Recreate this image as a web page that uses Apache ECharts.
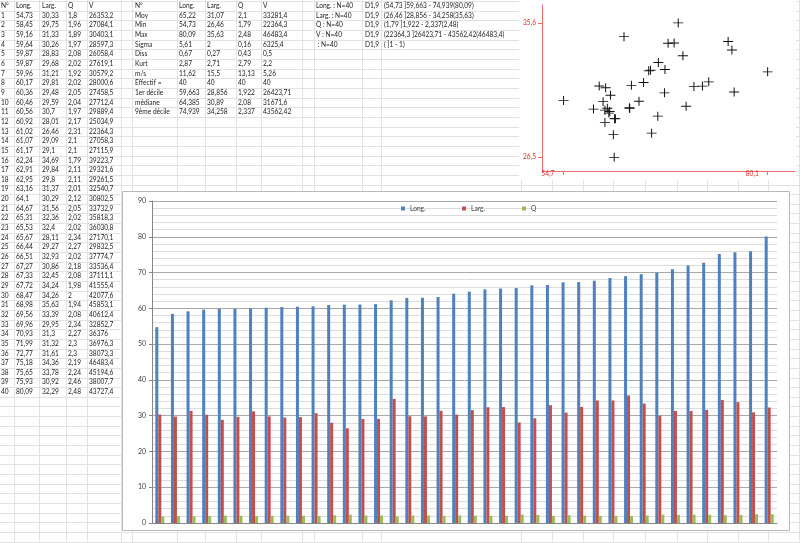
<!DOCTYPE html>
<html><head><meta charset="utf-8">
<script src="https://cdn.jsdelivr.net/npm/echarts@6/dist/echarts.min.js"></script>
<style>html,body{margin:0;padding:0;background:#fff}#c{width:800px;height:543px}</style>
</head><body><div id="c"></div>
<script>
// ---- data ----
const ids = [1,2,3,4,5,6,7,8,9,10,11,12,13,14,15,16,17,18,19,20,21,22,23,24,25,26,27,28,29,30,31,32,33,34,35,36,37,38,39,40];
const longV = [54.73,58.45,59.16,59.64,59.87,59.87,59.96,60.17,60.36,60.46,60.56,60.92,61.02,61.07,61.17,62.24,62.91,62.95,63.16,64.1,64.67,65.31,65.53,65.67,66.44,66.51,67.27,67.33,67.72,68.47,68.98,69.56,69.96,70.93,71.99,72.77,75.18,75.65,75.93,80.09];
const largV = [30.33,29.75,31.33,30.26,28.83,29.68,31.21,29.81,29.48,29.59,30.7,28.01,26.46,29.09,29.1,34.69,29.84,29.8,31.37,30.29,31.56,32.36,32.4,28.11,29.27,32.93,30.86,32.45,34.24,34.26,35.63,33.39,29.95,31.3,31.32,31.61,34.36,33.78,30.92,32.29];
const qV = [1.8,1.96,1.89,1.97,2.08,2.02,1.92,2.02,2.05,2.04,1.97,2.17,2.31,2.1,2.1,1.79,2.11,2.11,2.01,2.12,2.05,2.02,2.02,2.34,2.27,2.02,2.18,2.08,1.98,2,1.94,2.08,2.34,2.27,2.3,2.3,2.19,2.24,2.46,2.48];
const vV = [26353.2,27084.1,30403.1,28597.3,26058.4,27619.1,30579.2,28000.6,27458.5,27712.4,29889.4,25034.9,22364.3,27058.3,27115.9,39223.7,29321.6,29261.5,32540.7,30802.5,33732.9,35818.3,36030.8,27170.1,29832.5,37774.7,33536.4,37111.1,41555.4,42077.6,45853.1,40612.4,32852.7,36376,36976.3,38073.3,46483.4,45194.6,38007.7,43727.4];
const tableHeader = ['N°','Long.','Larg.','Q','V'];
const seriesNames = ['Long.','Larg.','Q'];

const statLabels = ['N°','Moy','Min','Max','Sigma','Diss','Kurt','m/s','Effectif =','1er décile','médiane','9ème décile'];
const statLong = ['Long.','65,22','54,73','80,09','5,61','0,67','2,87','11,62','40','59,663','64,385','74,939'];
const statLarg = ['Larg.','31,07','26,46','35,63','2','0,27','2,71','15,5','40','28,856','30,89','34,258'];
const statQ = ['Q','2,1','1,79','2,48','0,16','0,43','2,79','13,13','40','1,922','2,08','2,337'];
const statV = ['V','33281,4','22364,3','46483,4','6325,4','0,5','2,2','5,26','40','26423,71','31671,6','43562,42'];

const sumLabels = ['Long. : N=40','Larg. : N=40','Q : N=40','V : N=40',' : N=40'];
const sumD = ['D1,9','D1,9','D1,9','D1,9','D1,9'];
const sumRanges = ['(54,73 ]59,663 - 74,939(80,09)','(26,46 ]28,856 - 34,258(35,63)','(1,79 ]1,922 - 2,337(2,48)','(22364,3 ]26423,71 - 43562,42(46483,4)','( ]1 - 1)'];

const scatterXTicks = [54.7, 80.1];
const scatterYTicks = [26.5, 35.6];

// ---- layout helpers ----
const FONT = 'Lato, "Liberation Sans", sans-serif';
const fmt = v => String(v).replace('.', ',');
const rowH = 9.65, row0 = 6;
const rowY = r => row0 + r * rowH;
const g = [];
// spreadsheet grid
const colLines = [14,39,66,87,121,132,177,205,236,261,302,314,362,381,521,552,583,613,645,677,707,738,768,799];
colLines.forEach(x => g.push({type:'line', silent:true, z:-20, shape:{x1:x+0.5,y1:0,x2:x+0.5,y2:543}, style:{stroke:'#e2e2e2', lineWidth:1}}));
for (let k = 0; k < 58; k++) {
  const y = Math.round(row0 - rowH/2 + k*rowH) + 0.5;
  g.push({type:'line', silent:true, z:-20, shape:{x1:0,y1:y,x2:800,y2:y}, style:{stroke:'#e2e2e2', lineWidth:1}});
}
// chart boxes
g.push({type:'rect', silent:true, z:-10, shape:{x:519,y:0,width:277,height:180}, style:{fill:'#fff'}});
g.push({type:'rect', silent:true, z:-10, shape:{x:122.5,y:191.5,width:667,height:339}, style:{fill:'#fff', stroke:'#b8b8b8', lineWidth:1}});
function txt(s, x, r) {
  g.push({type:'text', silent:true, z:-5, x:x, y:rowY(r), style:{text:s, fill:'#222', fontSize:6.6, fontFamily:FONT, verticalAlign:'middle', align:'left'}});
}
// left data table
const tx = [1,16,42,68,89];
tableHeader.forEach((h,i) => txt(h, tx[i], 0));
ids.forEach((id, i) => {
  const r = i + 1;
  txt(String(id), tx[0], r);
  txt(fmt(longV[i]), tx[1], r);
  txt(fmt(largV[i]), tx[2], r);
  txt(fmt(qV[i]), tx[3], r);
  txt(fmt(vV[i]), tx[4], r);
});
// stats table
const sx = [135,179,207,238,263];
statLabels.forEach((s, r) => {
  txt(s, sx[0], r); txt(statLong[r], sx[1], r); txt(statLarg[r], sx[2], r); txt(statQ[r], sx[3], r); txt(statV[r], sx[4], r);
});
// summary
sumLabels.forEach((s, r) => { txt(s, 316, r); txt(sumD[r], 365, r); txt(sumRanges[r], 384, r); });

const chart = echarts.init(document.getElementById('c'), null, {renderer:'canvas'});
const barStyle = (name, color, data) => ({name, type:'bar', xAxisIndex:0, yAxisIndex:0, barWidth:3, barGap:'0%', itemStyle:{color}, z:3, data});
const legendAt = (name, left) => ({data:[name], left, top:200, icon:'rect', itemWidth:4, itemHeight:4,
  textStyle:{fontSize:6.6, color:'#404040', fontFamily:FONT}});
chart.setOption({
  animation:false,
  backgroundColor:'#fff',
  textStyle:{fontFamily:FONT},
  graphic:{elements:g},
  legend:[legendAt(seriesNames[0], 396), legendAt(seriesNames[1], 457), legendAt(seriesNames[2], 517)],
  grid:[
    {left:152, right:23, top:201, bottom:20},
    {left:542, right:5, top:5, bottom:372}
  ],
  xAxis:[
    {type:'category', gridIndex:0, data:ids, axisLabel:{show:false}, axisTick:{show:false},
     axisLine:{lineStyle:{color:'#868686'}}},
    {type:'value', gridIndex:1, min:52.05, max:83.49,
     axisLine:{onZero:false, lineStyle:{color:'#ef6b6b'}},
     axisTick:{show:true, customValues:scatterXTicks, length:4, lineStyle:{color:'#ef6b6b'}},
     axisLabel:{customValues:scatterXTicks, formatter:fmt, color:'#e02b2b', fontSize:6.6, fontFamily:FONT,
       align:'right', verticalAlign:'middle', margin:3, padding:[0,9,0,0]},
     splitLine:{show:false}}
  ],
  yAxis:[
    {type:'value', gridIndex:0, min:0, max:90, interval:10,
     axisLine:{show:true, lineStyle:{color:'#868686'}},
     axisTick:{show:true, length:3, lineStyle:{color:'#868686'}},
     axisLabel:{fontSize:7, color:'#404040', margin:6, fontFamily:FONT},
     splitLine:{lineStyle:{color:'#a8a8a8'}},
     minorTick:{show:false, splitNumber:5},
     minorSplitLine:{show:true, lineStyle:{color:'#dcdcdc'}}},
    {type:'value', gridIndex:1, min:25.53, max:36.85,
     axisLine:{show:true, onZero:false, lineStyle:{color:'#ef6b6b'}},
     axisTick:{show:true, customValues:scatterYTicks, length:4, lineStyle:{color:'#ef6b6b'}},
     axisLabel:{customValues:scatterYTicks, formatter:fmt, color:'#e02b2b', fontSize:6.6, fontFamily:FONT, margin:6},
     splitLine:{show:false}}
  ],
  series:[
    barStyle('Long.', '#4f81bd', longV),
    barStyle('Larg.', '#c0504d', largV),
    barStyle('Q', '#9bbb59', qV),
    {type:'scatter', xAxisIndex:1, yAxisIndex:1,
     symbol:'path://M0,4.5H10V5.5H0Z M4.5,0H5.5V10H4.5Z', symbolSize:[10,9],
     itemStyle:{color:'#111', opacity:1},
     data: longV.map((v,i) => [v, largV[i]])}
  ]
});
</script></body></html>
